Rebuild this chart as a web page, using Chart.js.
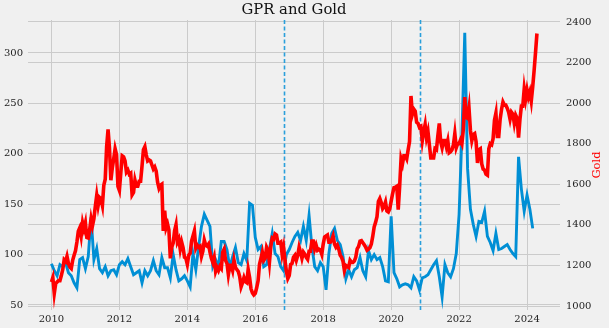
<!DOCTYPE html>
<html>
<head>
<meta charset="utf-8">
<script src="https://cdn.jsdelivr.net/npm/chart.js@4.4.1/dist/chart.umd.min.js"></script>
<style>
  html, body { margin: 0; padding: 0; background: #f0f0f0; }
  canvas { display: block; }
</style>
</head>
<body>
<canvas id="gprChart" width="609" height="328"></canvas>
<script>
// GPR index, monthly, Jan 2010 .. Mar 2024
const startYear = 2010;
const gprValues = [
  91, 84, 79, 90, 88, 92, 82, 79, 72, 67, 95, 97,
  86, 98, 137, 95, 106, 86, 82, 88, 79, 84, 85, 80,
  90, 93, 90, 96, 88, 80, 82, 84, 72, 84, 79, 84,
  94, 84, 80, 97, 87, 87, 77, 100, 85, 74, 76, 79,
  74, 68, 101, 85, 108, 128, 140, 134, 128, 88, 95, 88,
  113, 113, 105, 87, 98, 107, 92, 90, 101, 94, 151, 149,
  117, 105, 108, 88, 90, 105, 121, 101, 98, 88, 84, 100,
  105, 112, 118, 122, 114, 128, 114, 139, 108, 88, 84, 92,
  88, 65, 101, 121, 126, 114, 110, 98, 76, 85, 78, 85,
  87, 97, 84, 78, 104, 95, 100, 95, 97, 88, 74, 73,
  138, 82, 76, 68, 70, 71, 70, 67, 78, 74, 65, 77,
  78, 80, 85, 90, 94, 78, 58, 90, 82, 78, 86, 101,
  140, 220, 320, 185, 145, 130, 118, 133, 132, 143, 118, 112,
  104, 121, 105, 106, 108, 110, 105, 101, 98, 197, 165, 143,
  159, 145, 126
];

// gold price, twice a month (1st and 16th), Jan 2010 .. Apr 2024
const goldValues = [
  1118, 1140, 1062, 1110, 1118, 1125, 1125, 1150, 1180, 1228, 1220, 1245, 1210, 1192, 1185, 1225, 1250, 1272, 1315, 1368, 1385, 1345, 1410, 1380,
  1410, 1338, 1335, 1375, 1430, 1395, 1430, 1490, 1545, 1495, 1535, 1528, 1495, 1595, 1625, 1785, 1870, 1780, 1620, 1680, 1725, 1775, 1745, 1590,
  1570, 1655, 1740, 1735, 1715, 1660, 1670, 1650, 1655, 1548, 1560, 1620, 1590, 1590, 1615, 1615, 1690, 1770, 1785, 1745, 1715, 1720, 1715, 1695,
  1675, 1685, 1665, 1610, 1580, 1595, 1600, 1370, 1470, 1385, 1405, 1375, 1235, 1290, 1310, 1370, 1400, 1315, 1330, 1280, 1315, 1288, 1240, 1235,
  1205, 1250, 1260, 1320, 1345, 1370, 1285, 1300, 1290, 1295, 1245, 1270, 1325, 1300, 1295, 1305, 1265, 1235, 1215, 1240, 1170, 1190, 1175, 1195,
  1185, 1265, 1280, 1225, 1210, 1155, 1200, 1200, 1175, 1225, 1190, 1180, 1170, 1145, 1095, 1115, 1140, 1120, 1115, 1180, 1140, 1085, 1065, 1055,
  1062, 1090, 1125, 1205, 1235, 1265, 1225, 1235, 1290, 1275, 1215, 1295, 1335, 1330, 1355, 1350, 1310, 1310, 1315, 1255, 1290, 1225, 1170, 1135,
  1150, 1205, 1210, 1240, 1250, 1225, 1250, 1290, 1265, 1235, 1265, 1255, 1240, 1230, 1270, 1270, 1320, 1320, 1280, 1300, 1275, 1280, 1275, 1255,
  1305, 1340, 1345, 1350, 1315, 1315, 1325, 1345, 1305, 1290, 1300, 1280, 1250, 1240, 1220, 1175, 1200, 1195, 1190, 1225, 1215, 1215, 1222, 1240,
  1282, 1293, 1320, 1322, 1312, 1302, 1290, 1275, 1280, 1287, 1305, 1343, 1390, 1412, 1440, 1515, 1530, 1510, 1480, 1490, 1512, 1468, 1463, 1478,
  1517, 1553, 1583, 1585, 1590, 1475, 1590, 1725, 1700, 1740, 1740, 1725, 1770, 1810, 2035, 1945, 1970, 1960, 1905, 1900, 1880, 1885, 1815, 1860,
  1895, 1830, 1860, 1795, 1730, 1730, 1730, 1775, 1770, 1840, 1900, 1810, 1780, 1815, 1815, 1785, 1815, 1755, 1760, 1770, 1795, 1850, 1780, 1800,
  1800, 1818, 1800, 1870, 2030, 1930, 1925, 1975, 1865, 1815, 1845, 1850, 1810, 1705, 1770, 1775, 1700, 1675, 1670, 1650, 1645, 1775, 1800, 1795,
  1825, 1915, 1950, 1835, 1835, 1920, 1970, 2005, 1990, 1990, 1975, 1955, 1920, 1955, 1945, 1900, 1940, 1925, 1830, 1920, 1985, 1985, 2070, 2020,
  2065, 2030, 2055, 2010, 2080, 2160, 2250, 2343
];

// US elections, as decimal years
const eventDates = [2016.853, 2020.839];

const yearTicks = [2010, 2012, 2014, 2016, 2018, 2020, 2022, 2024];
const gprTicks = [50, 100, 150, 200, 250, 300];
const goldTicks = [1000, 1200, 1400, 1600, 1800, 2000, 2200, 2400];

const gprPoints = gprValues.map((v, i) => ({ x: startYear + i / 12, y: v }));
const goldPoints = goldValues.map((v, i) => {
  const month = Math.floor(i / 2);
  const day = i % 2 ? 15 : 0;
  return { x: startYear + (month + day / 30.4) / 12, y: v };
});

Chart.defaults.font.family = "'DejaVu Serif', serif";
Chart.defaults.color = '#222';

const eventLines = {
  id: 'eventLines',
  beforeDatasetsDraw(chart) {
    const { ctx, chartArea, scales } = chart;
    ctx.save();
    ctx.strokeStyle = '#2a9fdb';
    ctx.lineWidth = 1.6;
    ctx.setLineDash([4, 2.5]);
    eventDates.forEach(d => {
      const px = Math.round(scales.x.getPixelForValue(d)) + 0.5;
      ctx.beginPath();
      ctx.moveTo(px, chartArea.top);
      ctx.lineTo(px, chartArea.bottom);
      ctx.stroke();
    });
    ctx.restore();
  }
};

// title over the plot area and the right-hand axis label (reads bottom to top)
const labels = {
  id: 'labels',
  afterDraw(chart) {
    const { ctx, chartArea } = chart;
    ctx.save();
    ctx.fillStyle = '#111';
    ctx.font = "14.8px 'DejaVu Serif'";
    ctx.textAlign = 'center';
    ctx.textBaseline = 'middle';
    ctx.fillText('GPR and Gold', (chartArea.left + chartArea.right) / 2, 10);
    ctx.translate(597, (chartArea.top + chartArea.bottom) / 2);
    ctx.rotate(-Math.PI / 2);
    ctx.fillStyle = '#ff0000';
    ctx.font = "11.5px 'DejaVu Serif'";
    ctx.fillText('Gold', 0, 0);
    ctx.restore();
  }
};

const ctx = document.getElementById('gprChart').getContext('2d');
new Chart(ctx, {
  type: 'line',
  data: {
    datasets: [
      {
        label: 'Gold',
        data: goldPoints,
        yAxisID: 'y1',
        borderColor: '#ff0000',
        borderWidth: 3.6,
        pointRadius: 0,
        tension: 0,
        order: 0
      },
      {
        label: 'GPR',
        data: gprPoints,
        yAxisID: 'y',
        borderColor: '#008fd5',
        borderWidth: 2.9,
        pointRadius: 0,
        tension: 0,
        order: 1
      }
    ]
  },
  options: {
    responsive: false,
    animation: false,
    devicePixelRatio: 1,
    layout: { padding: { top: 20 } },
    plugins: {
      legend: { display: false },
      tooltip: { enabled: false },
      title: { display: false }
    },
    scales: {
      x: {
        type: 'linear',
        min: 2009.31,
        max: 2024.97,
        afterBuildTicks: s => { s.ticks = yearTicks.map(v => ({ value: v })); },
        afterFit: s => { s.height = 18; },
        ticks: { callback: v => String(v), font: { size: 10 }, padding: 3, maxRotation: 0 },
        grid: { color: '#cbcbcb', lineWidth: 1, drawTicks: false },
        border: { display: false }
      },
      y: {
        position: 'left',
        min: 45.04,
        max: 332.7,
        afterBuildTicks: s => { s.ticks = gprTicks.map(v => ({ value: v })); },
        afterFit: s => { s.width = 28; },
        ticks: { font: { size: 10 }, padding: 5 },
        grid: { color: '#cbcbcb', lineWidth: 1, drawTicks: false },
        border: { display: false }
      },
      y1: {
        position: 'right',
        min: 980.3,
        max: 2409.5,
        afterBuildTicks: s => { s.ticks = goldTicks.map(v => ({ value: v })); },
        afterFit: s => { s.width = 49; },
        ticks: { callback: v => String(v), font: { size: 10 }, padding: 6 },
        grid: { color: '#cbcbcb', lineWidth: 1, drawTicks: false },
        border: { display: false }
      }
    }
  },
  plugins: [eventLines, labels]
});
</script>
</body>
</html>
